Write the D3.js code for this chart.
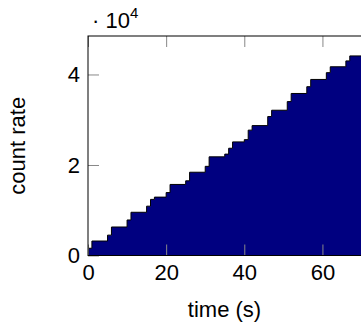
<!DOCTYPE html>
<html>
<head>
<meta charset="utf-8">
<script src="https://cdn.jsdelivr.net/npm/d3@7"></script>
<style>
  body { margin: 0; background: #fff; }
  text { font-family: "Liberation Sans", Arial, sans-serif; fill: #000; }
</style>
</head>
<body>
<div id="visual"></div>
<script>
///// DATA /////
// step start times (s) and count rate at each step
var times = [0, 1, 5, 6, 10, 11, 15, 16, 17, 20, 21, 25, 26, 30, 31, 35, 36, 37, 40, 41, 42, 46, 47, 51, 52, 56, 57, 61, 62, 66, 67];
var rates = [1600, 3200, 4500, 6300, 7850, 9550, 10900, 12400, 12900, 13900, 15700, 16500, 18400, 19700, 21800, 22400, 23700, 25100, 25600, 27700, 28700, 30700, 32100, 34000, 35800, 37300, 38900, 40400, 41700, 43000, 44100];
var xTicks = [0, 20, 40, 60];
var yTicks = [0, 20000, 40000];

///// DIMENSIONS /////
var W = 361, H = 324;
var plot = { left: 88, right: 361.5, top: 36, bottom: 255.5 };
var xMax = 70, yMax = 48500;

var xScale = d3.scaleLinear().domain([0, xMax]).range([plot.left, plot.right]);
var yScale = d3.scaleLinear().domain([0, yMax]).range([plot.bottom, plot.top]);

var svg = d3.select('#visual').append('svg')
  .attr('width', W).attr('height', H);

var data = times.map(function(t, i) { return { t: t, v: rates[i] }; });
data.push({ t: xMax, v: rates[rates.length - 1] });

///// STEP AREA /////
var area = d3.area()
  .curve(d3.curveStepAfter)
  .x(d => xScale(d.t))
  .y0(yScale(0))
  .y1(d => yScale(d.v));

var line = d3.line()
  .curve(d3.curveStepAfter)
  .x(d => xScale(d.t))
  .y(d => yScale(d.v));

svg.append('path').datum(data)
  .attr('d', area)
  .attr('fill', '#000080');

svg.append('path').datum(data)
  .attr('d', line)
  .attr('fill', 'none')
  .attr('stroke', '#000')
  .attr('stroke-width', 1);

///// AXES /////
function styleAxis(g) {
  g.select('.domain').remove();
  g.selectAll('.tick line').attr('stroke', '#888').attr('stroke-width', 1);
  g.selectAll('.tick text').attr('font-size', 22).attr('font-family', '"Liberation Sans", Arial, sans-serif');
}

svg.append('g')
  .attr('transform', `translate(0,${plot.bottom})`)
  .call(d3.axisBottom(xScale).tickValues(xTicks).tickSize(-11).tickPadding(9))
  .call(styleAxis);

svg.append('g')
  .attr('transform', `translate(0,${plot.top})`)
  .call(d3.axisTop(xScale).tickValues(xTicks).tickSize(-11).tickFormat(''))
  .call(styleAxis);

svg.append('g')
  .attr('transform', `translate(${plot.left},0)`)
  .call(d3.axisLeft(yScale).tickValues(yTicks).tickSize(-11).tickPadding(8)
    .tickFormat(d => d / 10000))
  .call(styleAxis);

// frame
svg.append('rect')
  .attr('x', plot.left).attr('y', plot.top)
  .attr('width', plot.right - plot.left).attr('height', plot.bottom - plot.top)
  .attr('fill', 'none').attr('stroke', '#000').attr('stroke-width', 1);

///// LABELS /////
var mult = svg.append('text')
  .attr('x', 92).attr('y', 28)
  .attr('font-size', 22);
mult.append('tspan').text('· 10');
mult.append('tspan').attr('dy', -10).attr('font-size', 15).text('4');

svg.append('text')
  .attr('x', (plot.left + W) / 2).attr('y', 317)
  .attr('text-anchor', 'middle')
  .attr('font-size', 22)
  .text('time (s)');

svg.append('text')
  .attr('transform', `translate(25,${(plot.top + plot.bottom) / 2}) rotate(-90)`)
  .attr('text-anchor', 'middle')
  .attr('font-size', 22)
  .text('count rate');
</script>
</body>
</html>
